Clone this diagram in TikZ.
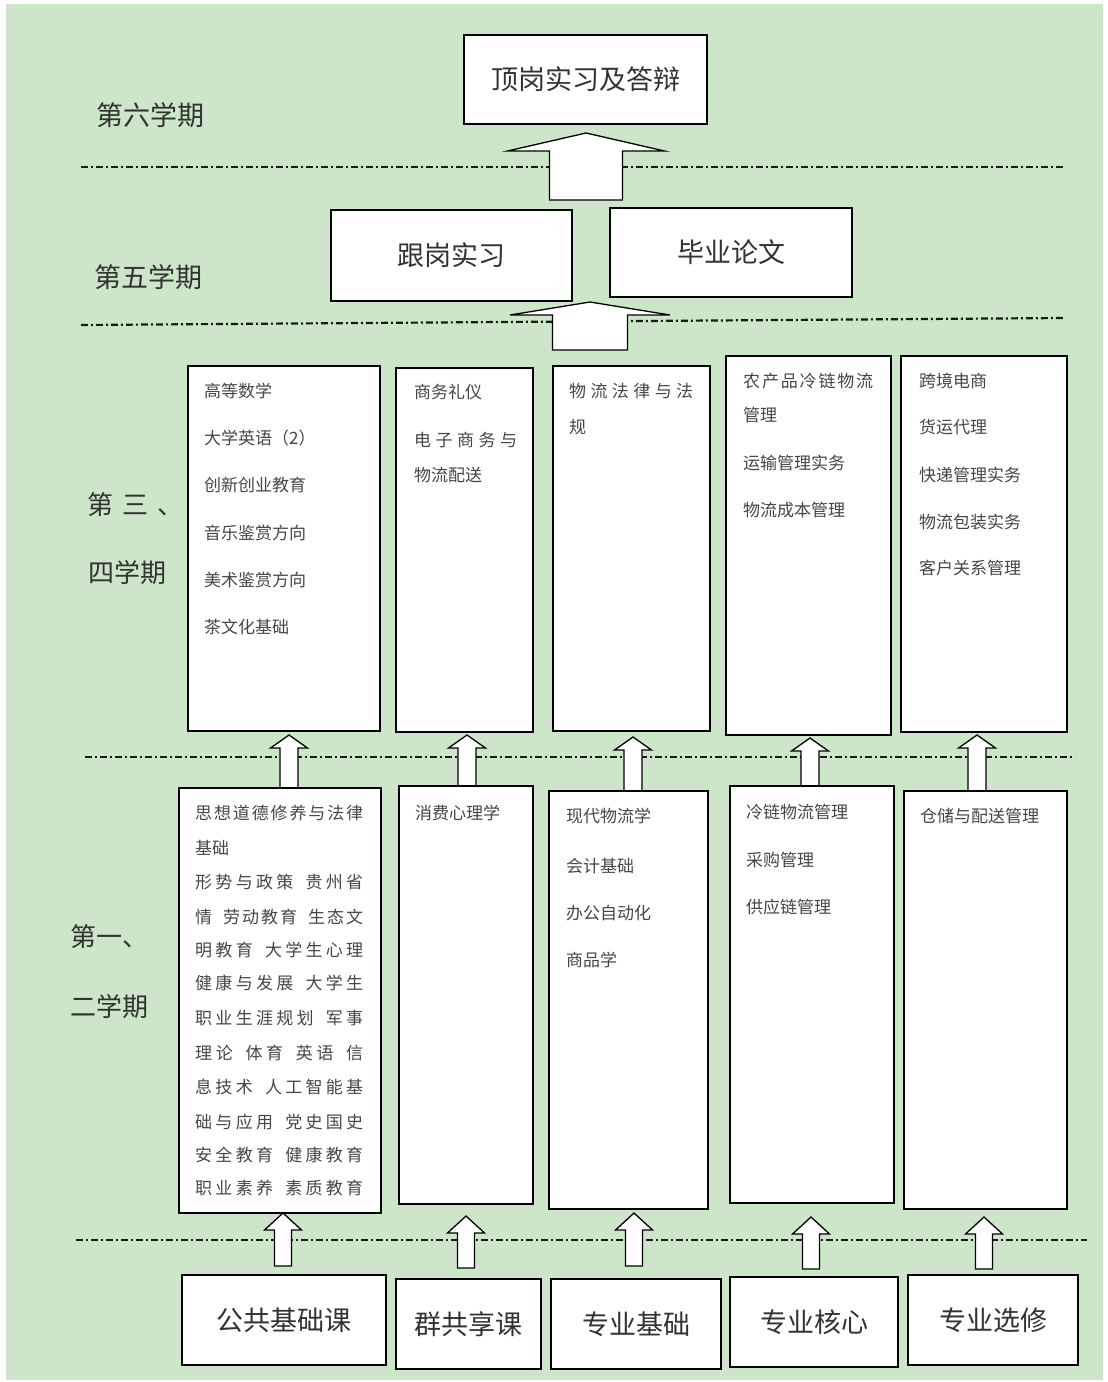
\documentclass[tikz,border=0pt]{standalone}
\usepackage{fontspec}
\newfontfamily\cjk{Noto Sans CJK SC}
\definecolor{bg}{RGB}{205,230,201}
\definecolor{txtc}{RGB}{70,70,70}
\definecolor{ttlc}{RGB}{50,50,50}
\def\spreadl#1{\ifx#1\relax\unskip\else#1\hskip 0pt plus 1fil\relax\expandafter\spreadl\fi}
\newcommand\jl[2]{\hbox to #1{\spreadl#2\relax}}
\newcommand\wg{\hskip 9pt plus -1fil\relax}
\newcommand\uparr[6]{% cx tip headbase base headhalf shafthalf
  \draw[barrow] (#1-#6,#4) -- (#1-#6,#3) -- (#1-#5,#3) -- (#1,#2) -- (#1+#5,#3) -- (#1+#6,#3) -- (#1+#6,#4) -- cycle;}
\tikzset{
  box/.style={draw=black, line width=1.8pt, fill=white, inner sep=0pt},
  lbl/.style={font=\cjk\fontsize{26}{30}\selectfont, text=ttlc, inner sep=0pt},
  titletext/.style={font=\cjk\fontsize{27}{32}\selectfont, text=ttlc},
  small/.style={font=\cjk\fontsize{17}{20}\selectfont, text=txtc, anchor=west, inner sep=0pt},
  sepline/.style={draw=black!90, line width=2.2pt, dash pattern=on 7pt off 3pt on 2pt off 3pt},
  barrow/.style={draw=black, line width=1.3pt, fill=white}
}
\begin{document}
\begin{tikzpicture}[x=1pt,y=-1pt]
\useasboundingbox (0,0) rectangle (1108,1382);
\fill[white] (0,0) rectangle (1108,1382);
\fill[bg] (6,4) rectangle (1103,1380);

% separators
\draw[sepline] (81,167) -- (1064,167);
\draw[sepline] (81,325) -- (1064,318);
\draw[sepline] (85,757) -- (1075,757);
\draw[sepline] (76,1240) -- (1087,1240);

% semester labels
\node[lbl, font=\cjk\fontsize{27}{30}\selectfont] (s6) at (150,115) {第六学期};
\node[lbl, font=\cjk\fontsize{27}{30}\selectfont] (s5) at (148,277) {第五学期};
\node[lbl, anchor=west] (s34a) at (87,505) {\jl{96pt}{第三、}};
\node[lbl, anchor=west] (s34b) at (88,573) {四学期};
\node[lbl, anchor=west] (s12a) at (70,937) {第一、};
\node[lbl, anchor=west] (s12b) at (70,1007) {二学期};

% block arrows
\uparr{586}{133}{151}{200}{78.5}{36.5}
\uparr{590}{302}{315}{350}{80}{37.5}
\uparr{289}{735}{748}{788}{18.5}{9}
\uparr{467}{735}{748}{786}{18.5}{9}
\uparr{633}{737}{750}{791}{18.5}{9}
\uparr{810}{738}{751}{786}{18.5}{9}
\uparr{977}{735}{748}{791}{18.5}{9}
\uparr{283}{1213}{1230}{1266}{18.5}{8.5}
\uparr{466}{1216}{1233}{1268}{18.5}{8.5}
\uparr{634}{1213}{1230}{1266}{18.5}{8.5}
\uparr{811}{1217}{1234}{1269}{18.5}{8.5}
\uparr{984}{1217}{1234}{1269}{18.5}{8.5}

% top boxes
\node[box, minimum width=243pt, minimum height=89pt, titletext] (top) at (585.5,79.5) {顶岗实习及答辩};
\node[box, minimum width=241pt, minimum height=91pt, titletext] (gen) at (451.5,255.5) {跟岗实习};
\node[box, minimum width=242pt, minimum height=89pt, titletext] (thesis) at (731,252.5) {毕业论文};

% semester 3-4 boxes
\node[box, minimum width=192pt, minimum height=365pt] (A) at (284,548.5) {};
\node[box, minimum width=137pt, minimum height=364pt] (B) at (464.5,550) {};
\node[box, minimum width=157pt, minimum height=365pt] (C) at (631.5,548.5) {};
\node[box, minimum width=165pt, minimum height=379pt] (D) at (808.5,545.5) {};
\node[box, minimum width=166pt, minimum height=376pt] (E) at (984,544) {};

% semester 1-2 boxes
\node[box, minimum width=202pt, minimum height=425pt] (F) at (280,1000.5) {};
\node[box, minimum width=134pt, minimum height=418pt] (G) at (466,995) {};
\node[box, minimum width=159pt, minimum height=418pt] (H) at (628.5,1000) {};
\node[box, minimum width=164pt, minimum height=417pt] (I) at (812,994.5) {};
\node[box, minimum width=163pt, minimum height=418pt] (J) at (985.5,1000) {};

% bottom category boxes
\node[box, minimum width=204pt, minimum height=90pt, titletext] (K1) at (284,1320) {公共基础课};
\node[box, minimum width=145pt, minimum height=90pt, titletext] (K2) at (468.5,1324) {群共享课};
\node[box, minimum width=170pt, minimum height=90pt, titletext] (K3) at (636,1324) {专业基础};
\node[box, minimum width=168pt, minimum height=90pt, titletext] (K4) at (814,1322) {专业核心};
\node[box, minimum width=170pt, minimum height=90pt, titletext] (K5) at (993,1320) {专业选修};

% texts A
\node[small] (a1) at (204,391) {高等数学};
\node[small] (a2) at (204,438) {大学英语（2）};
\node[small] (a3) at (204,485) {创新创业教育};
\node[small] (a4) at (204,533) {音乐鉴赏方向};
\node[small] (a5) at (204,580) {美术鉴赏方向};
\node[small] (a6) at (204,627) {茶文化基础};
% texts B
\node[small] (b1) at (414,392) {商务礼仪};
\node[small] (b2) at (414,440) {\jl{103pt}{电子商务与}};
\node[small] (b3) at (414,475) {物流配送};
% texts C
\node[small] (c1) at (569,391) {\jl{124pt}{物流法律与法}};
\node[small] (c2) at (569,427) {规};
% texts D
\node[small] (d1) at (743,381) {\jl{130pt}{农产品冷链物流}};
\node[small] (d2) at (743,415) {管理};
\node[small] (d3) at (743,463) {运输管理实务};
\node[small] (d4) at (743,510) {物流成本管理};
% texts E
\node[small] (e1) at (919,381) {跨境电商};
\node[small] (e2) at (919,427) {货运代理};
\node[small] (e3) at (919,475) {快递管理实务};
\node[small] (e4) at (919,522) {物流包装实务};
\node[small] (e5) at (919,568) {客户关系管理};
% texts F
\node[small] (f1) at (195,813) {\jl{168pt}{思想道德修养与法律}};
\node[small] (f2) at (195,848) {基础};
\node[small] (f3) at (195,882) {\jl{168pt}{形势与政策\wg 贵州省}};
\node[small] (f4) at (195,917) {\jl{168pt}{情\wg 劳动教育\wg 生态文}};
\node[small] (f5) at (195,950) {\jl{168pt}{明教育\wg 大学生心理}};
\node[small] (f6) at (195,983) {\jl{168pt}{健康与发展\wg 大学生}};
\node[small] (f7) at (195,1018) {\jl{168pt}{职业生涯规划\wg 军事}};
\node[small] (f8) at (195,1053) {\jl{168pt}{理论\wg 体育\wg 英语\wg 信}};
\node[small] (f9) at (195,1087) {\jl{168pt}{息技术\wg 人工智能基}};
\node[small] (f10) at (195,1122) {\jl{168pt}{础与应用\wg 党史国史}};
\node[small] (f11) at (195,1155) {\jl{168pt}{安全教育\wg 健康教育}};
\node[small] (f12) at (195,1188) {\jl{168pt}{职业素养\wg 素质教育}};
% texts G
\node[small] (g1) at (415,813) {消费心理学};
% texts H
\node[small] (h1) at (566,816) {现代物流学};
\node[small] (h2) at (566,866) {会计基础};
\node[small] (h3) at (566,913) {办公自动化};
\node[small] (h4) at (566,960) {商品学};
% texts I
\node[small] (i1) at (746,812) {冷链物流管理};
\node[small] (i2) at (746,860) {采购管理};
\node[small] (i3) at (746,907) {供应链管理};
% texts J
\node[small] (j1) at (920,816) {仓储与配送管理};
\end{tikzpicture}
\end{document}
